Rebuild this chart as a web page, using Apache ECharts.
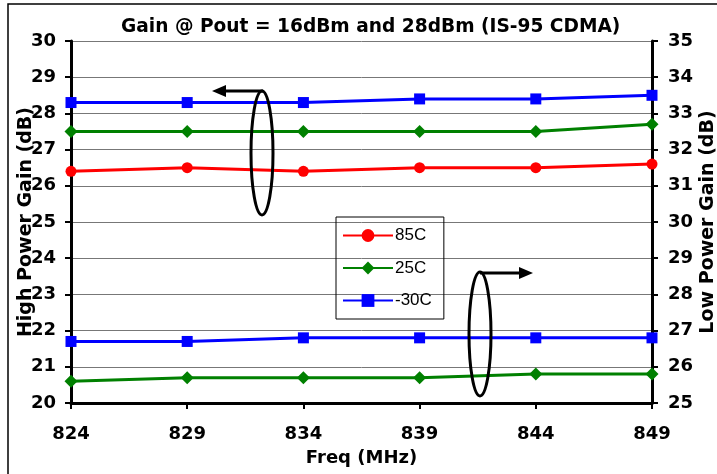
<!DOCTYPE html>
<html>
<head>
<meta charset="utf-8">
<script src="https://cdn.jsdelivr.net/npm/echarts@6/dist/echarts.min.js"></script>
<style>html,body{margin:0;padding:0;background:#fff}#c{width:717px;height:474px}</style>
</head>
<body>
<div id="c"></div>
<script>
var freqs = [824, 829, 834, 839, 844, 849];
var hp85 = [26.4, 26.5, 26.4, 26.5, 26.5, 26.6];
var hp25 = [27.5, 27.5, 27.5, 27.5, 27.5, 27.7];
var hpM30 = [28.3, 28.3, 28.3, 28.4, 28.4, 28.5];
var lp25 = [25.6, 25.7, 25.7, 25.7, 25.8, 25.8];
var lpM30 = [26.7, 26.7, 26.8, 26.8, 26.8, 26.8];

function pairs(ys){ return freqs.map(function(f,i){ return [f, ys[i]]; }); }

var FONT = '"DejaVu Sans", sans-serif';
var LFONT = '"Liberation Sans", Arial, sans-serif';
var chart = echarts.init(document.getElementById('c'));
function mk(name, data, color, symbol, size, axis){
  return {
    name: name, type: 'line', yAxisIndex: axis, data: pairs(data),
    symbol: symbol, symbolSize: size,
    lineStyle: {color: color, width: 3},
    itemStyle: {color: color},
    animation: false
  };
}
chart.setOption({
  animation: false,
  title: {
    text: 'Gain @ Pout = 16dBm and 28dBm (IS-95 CDMA)',
    left: 116, top: 13,
    textStyle: {fontFamily: FONT, fontWeight: 'bold', fontSize: 18.6, color: '#000'}
  },
  grid: {left: 71, right: 65, top: 41, bottom: 71, containLabel: false, outerBoundsMode: 'none'},
  legend: {
    orient: 'vertical', left: 336, top: 217,
    data: ['85C', '25C', '-30C'],
    itemWidth: 50, itemHeight: 16, itemGap: 15.5,
    padding: [10, 12, 10, 6],
    borderColor: '#000', borderWidth: 1,
    textStyle: {fontFamily: LFONT, fontSize: 17, color: '#000', padding: [0,0,0,-3]}
  },
  xAxis: {
    type: 'value', min: 824, max: 849, interval: 5,
    name: 'Freq (MHz)', nameLocation: 'middle', nameGap: 46, nameMoveOverlap: false,
    nameTextStyle: {fontFamily: FONT, fontWeight: 'bold', fontSize: 18, color: '#000'},
    axisLine: {lineStyle: {color: '#000', width: 3}},
    axisTick: {lineStyle: {color: '#000', width: 2}, length: 6},
    axisLabel: {fontFamily: FONT, fontWeight: 'bold', fontSize: 18, color: '#000', margin: 22},
    splitLine: {show: false}
  },
  yAxis: [{
    type: 'value', min: 20, max: 30, interval: 1, position: 'left',
    name: 'High Power Gain (dB)', nameLocation: 'middle', nameGap: 35, nameRotate: 90, nameMoveOverlap: false,
    nameTextStyle: {fontFamily: FONT, fontWeight: 'bold', fontSize: 19, color: '#000'},
    axisLine: {show: true, lineStyle: {color: '#000', width: 3}},
    axisTick: {show: true, lineStyle: {color: '#000', width: 2}, length: 6},
    axisLabel: {fontFamily: FONT, fontWeight: 'bold', fontSize: 18, color: '#000', margin: 15},
    splitLine: {show: true, lineStyle: {color: '#777777', width: 1}}
  }, {
    type: 'value', min: 25, max: 35, interval: 1, position: 'right',
    name: 'Low Power Gain (dB)', nameLocation: 'middle', nameGap: 47, nameRotate: 90, nameMoveOverlap: false,
    nameTextStyle: {fontFamily: FONT, fontWeight: 'bold', fontSize: 19, color: '#000'},
    axisLine: {show: true, lineStyle: {color: '#000', width: 3}},
    axisTick: {show: true, lineStyle: {color: '#000', width: 2}, length: 6},
    axisLabel: {fontFamily: FONT, fontWeight: 'bold', fontSize: 18, color: '#000', margin: 16},
    splitLine: {show: false}
  }],
  series: [
    mk('85C', hp85, '#ff0000', 'circle', 11, 0),
    mk('25C', hp25, '#008000', 'diamond', 13, 0),
    mk('-30C', hpM30, '#0000ff', 'rect', 11, 0),
    mk('25C', lp25, '#008000', 'diamond', 13, 1),
    mk('-30C', lpM30, '#0000ff', 'rect', 11, 1)
  ],
  graphic: [
    {type: 'rect', shape: {x: 8, y: 4, width: 720, height: 480}, style: {fill: 'none', stroke: '#000', lineWidth: 1.5}, silent: true},
    {type: 'ellipse', shape: {cx: 262, cy: 153, rx: 11, ry: 62}, style: {fill: 'none', stroke: '#000', lineWidth: 3}, z: 100},
    {type: 'polyline', shape: {points: [[263, 91], [224, 91]]}, style: {stroke: '#000', lineWidth: 3}, z: 100},
    {type: 'polygon', shape: {points: [[212, 91], [226, 85], [226, 97]]}, style: {fill: '#000'}, z: 100},
    {type: 'ellipse', shape: {cx: 480, cy: 334, rx: 11, ry: 62}, style: {fill: 'none', stroke: '#000', lineWidth: 3}, z: 100},
    {type: 'polyline', shape: {points: [[480, 273], [521, 273]]}, style: {stroke: '#000', lineWidth: 3}, z: 100},
    {type: 'polygon', shape: {points: [[533, 273], [519, 267], [519, 279]]}, style: {fill: '#000'}, z: 100}
  ]
});
</script>
</body>
</html>
